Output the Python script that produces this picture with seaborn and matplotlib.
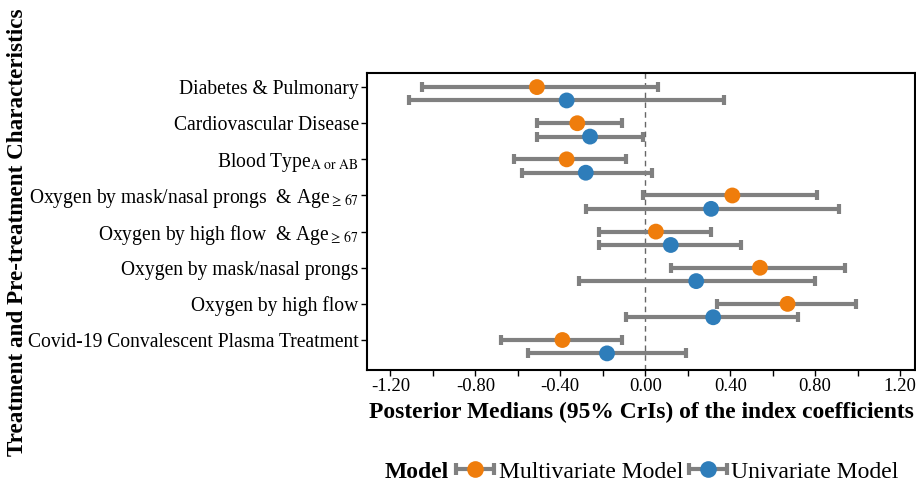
import matplotlib
matplotlib.use("Agg")
import matplotlib.pyplot as plt
import seaborn as sns
import pandas as pd
import numpy as np
from matplotlib.lines import Line2D
from matplotlib.legend_handler import HandlerTuple, HandlerLine2D

categories = [
    "Diabetes & Pulmonary",
    "Cardiovascular Disease",
    r"Blood Type$_{\mathrm{A\ or\ AB}}$",
    r"Oxygen by mask/nasal prongs  & Age$_{\geq\,67}$",
    r"Oxygen by high flow  & Age$_{\geq\,67}$",
    "Oxygen by mask/nasal prongs",
    "Oxygen by high flow",
    "Covid-19 Convalescent Plasma Treatment",
]
models = ["Multivariate Model", "Univariate Model"]

multi_median = [-0.51, -0.32, -0.37, 0.41, 0.05, 0.54, 0.67, -0.39]
multi_lower = [-1.05, -0.51, -0.62, -0.01, -0.22, 0.12, 0.34, -0.68]
multi_upper = [0.06, -0.11, -0.09, 0.81, 0.31, 0.94, 0.99, -0.11]

uni_median = [-0.37, -0.26, -0.28, 0.31, 0.12, 0.24, 0.32, -0.18]
uni_lower = [-1.11, -0.51, -0.58, -0.28, -0.22, -0.31, -0.09, -0.55]
uni_upper = [0.37, -0.01, 0.03, 0.91, 0.45, 0.80, 0.72, 0.19]

xticks = [-1.2, -0.8, -0.4, 0.0, 0.4, 0.8, 1.2]

colors = {"Multivariate Model": "#EF7D0C", "Univariate Model": "#2E7DBA"}
offsets = {"Multivariate Model": 0.0, "Univariate Model": 0.37}
gray = "#808080"

rows = []
for i, c in enumerate(categories):
    rows.append(dict(cat=c, model=models[0], med=multi_median[i], lo=multi_lower[i], hi=multi_upper[i], idx=i))
    rows.append(dict(cat=c, model=models[1], med=uni_median[i], lo=uni_lower[i], hi=uni_upper[i], idx=i))
df = pd.DataFrame(rows)
df["ypos"] = df["idx"] + df["model"].map(offsets)

sns.set_theme(style="white")
plt.rcParams["font.family"] = ["Liberation Serif", "DejaVu Serif"]
plt.rcParams["mathtext.fontset"] = "stix"
for k in ["text.color", "axes.labelcolor", "xtick.color", "ytick.color", "axes.edgecolor"]:
    plt.rcParams[k] = "black"

fig = plt.figure(figsize=(9.16, 4.84), dpi=100)
ax = fig.add_axes([367 / 916, 1 - 370 / 484, (915 - 367) / 916, (370 - 73) / 484])

ax.axvline(0, color="#666666", lw=1.0, ls=(0, (4, 3)), zorder=1)

for m in models:
    sub = df[df["model"] == m]
    ax.errorbar(sub["med"], sub["ypos"],
                xerr=[sub["med"] - sub["lo"], sub["hi"] - sub["med"]],
                fmt="none", ecolor=gray, elinewidth=3, capsize=3.5, capthick=3, zorder=2)

sns.scatterplot(data=df, x="med", y="ypos", hue="model", hue_order=models,
                palette=colors, s=130, edgecolor="none", linewidth=0, zorder=3, ax=ax, legend=False)

ax.set_xlim(-1.31, 1.27)
ax.set_ylim(7.83, -0.39)
ax.set_yticks(range(len(categories)))
ax.set_yticklabels(categories, fontsize=14.1)
ax.set_xticks(xticks)
ax.set_xticklabels([f"{v:.2f}" for v in xticks], fontsize=13.5)
ax.set_xticks(np.arange(-1.2, 1.21, 0.2), minor=True)
ax.tick_params(axis="both", which="both", direction="out", length=4, width=1, color="black", bottom=True, left=True, pad=2)
for s in ax.spines.values():
    s.set_color("black")
    s.set_linewidth(1.5)

ax.set_xlabel("Posterior Medians (95% CrIs) of the index coefficients", fontsize=16.9, fontweight="bold", labelpad=5)
fig.text(18 / 916, 1 - 232 / 484, "Treatment and Pre-treatment Characteristics", rotation=90,
         fontsize=16.7, fontweight="bold", ha="center", va="center")
ax.set_ylabel("")

fig.text(385 / 916, 1 - 472 / 484, "Model", fontsize=17, fontweight="bold", ha="left", va="center")
leg_handles = []
hmap = {}
for m in models:
    bar = Line2D([0], [0], color=gray, lw=3, marker="|", markersize=8, markeredgewidth=3, markeredgecolor=gray)
    pt = Line2D([0], [0], marker="o", color="none", markerfacecolor=colors[m], markeredgecolor="none", markersize=12)
    hmap[bar] = HandlerLine2D(numpoints=2, marker_pad=0.05)
    hmap[pt] = HandlerLine2D(numpoints=1)
    leg_handles.append((bar, pt))
hmap[tuple] = HandlerTuple(ndivide=1)
fig.legend(leg_handles, models, loc="center left", bbox_to_anchor=(455 / 916, 1 - 472 / 484), ncol=2,
           frameon=False, fontsize=17, handler_map=hmap,
           handlelength=1.7, handletextpad=0.15, columnspacing=0.2, borderpad=0, borderaxespad=0)

fig.savefig("out.png", dpi=100)
